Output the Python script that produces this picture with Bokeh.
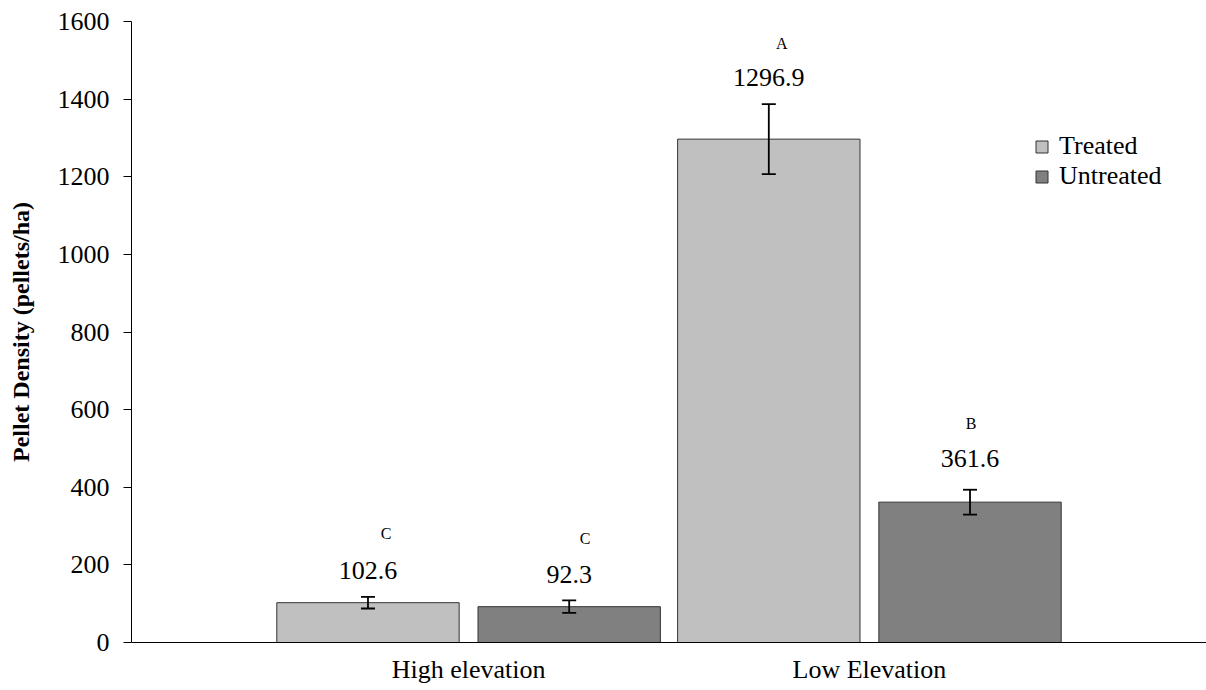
from bokeh.plotting import figure
from bokeh.models import ColumnDataSource, FactorRange, Whisker, TeeHead, LabelSet
from bokeh.transform import dodge
from bokeh.embed import file_html
from bokeh.resources import INLINE

# ---- data ----
groups = ["High elevation", "Low Elevation"]
series = ["Treated", "Untreated"]
treated = [102.6, 1296.9]
untreated = [92.3, 361.6]
treated_err = [15, 90]
untreated_err = [16, 32]
treated_letters = ["C", "A"]
untreated_letters = ["C", "B"]

# ---- annotation styling (pixel offsets of labels above error bars) ----
treated_val_dy = [26, 27]
untreated_val_dy = [26, 31]
treated_let_dy = [63, 61]
untreated_let_dy = [62, 66]
treated_let_dx = [18, 13]
untreated_let_dx = [16, 1]

FONT = "Liberation Serif"
OFF = 0.251
BW = 0.455


def make_src(vals, errs, letters, vdy, ldy, ldx):
    return ColumnDataSource(dict(
        group=groups,
        value=vals,
        upper=[v + e for v, e in zip(vals, errs)],
        lower=[v - e for v, e in zip(vals, errs)],
        label=[f"{v:.1f}" for v in vals],
        letter=letters,
        vdy=vdy, ldy=ldy, ldx=ldx,
    ))


src_t = make_src(treated, treated_err, treated_letters, treated_val_dy, treated_let_dy, treated_let_dx)
src_u = make_src(untreated, untreated_err, untreated_letters, untreated_val_dy, untreated_let_dy, untreated_let_dx)

xr = FactorRange(*groups, range_padding=0.341, range_padding_units="absolute")
p = figure(x_range=xr, y_range=(0, 1600), width=1206, height=690,
           output_backend="svg", toolbar_location=None,
           min_border_left=131, min_border_top=21, min_border_bottom=48, min_border_right=0)

p.outline_line_color = None
p.xgrid.grid_line_color = None
p.ygrid.grid_line_color = None
p.background_fill_color = "white"
p.border_fill_color = "white"

cols = {"Treated": "#C0C0C0", "Untreated": "#808080"}
for src, name, sgn in [(src_t, "Treated", -1), (src_u, "Untreated", 1)]:
    xpos = dodge("group", sgn * OFF, range=p.x_range)
    p.vbar(x=xpos, top="value", width=BW, source=src,
           fill_color=cols[name], line_color="#333333", line_width=1,
           legend_label=name)
    w = Whisker(base=dodge("group", sgn * OFF, range=p.x_range), upper="upper", lower="lower",
                source=src, line_color="black", line_width=1.8, level="overlay",
                upper_head=TeeHead(size=14, line_color="black", line_width=1.8),
                lower_head=TeeHead(size=14, line_color="black", line_width=1.8))
    p.add_layout(w)
    vl = LabelSet(x=dodge("group", sgn * OFF, range=p.x_range), y="upper", text="label",
                  y_offset="vdy", source=src, text_align="center", text_baseline="middle",
                  text_font=FONT, text_font_size="26px", text_color="black")
    p.add_layout(vl)
    ll = LabelSet(x=dodge("group", sgn * OFF, range=p.x_range), y="upper", text="letter",
                  y_offset="ldy", x_offset="ldx", source=src, text_align="center",
                  text_baseline="middle", text_font=FONT, text_font_size="16px",
                  text_color="black")
    p.add_layout(ll)

# y axis
ya = p.yaxis[0]
ya.ticker = list(range(0, 1601, 200))
ya.axis_label = "Pellet Density (pellets/ha)"
ya.axis_label_text_font = FONT
ya.axis_label_text_font_style = "bold"
ya.axis_label_text_font_size = "24px"
ya.axis_label_text_color = "black"
ya.axis_label_standoff = 21
ya.major_label_text_font = FONT
ya.major_label_text_font_size = "26px"
ya.major_label_text_color = "black"
ya.major_label_standoff = 14
ya.major_tick_out = 8
ya.major_tick_in = 0
ya.minor_tick_out = 0
ya.minor_tick_in = 0
ya.axis_line_color = "black"
ya.major_tick_line_color = "black"

# x axis
xa = p.xaxis[0]
xa.major_label_text_font = FONT
xa.major_label_text_font_size = "26px"
xa.major_label_text_color = "black"
xa.major_label_standoff = 12
xa.major_tick_out = 0
xa.major_tick_in = 0
xa.axis_line_color = "black"

# legend
lg = p.legend[0]
lg.location = (903, 451)
lg.border_line_color = None
lg.background_fill_alpha = 0
lg.padding = 0
lg.margin = 0
lg.spacing = -3
lg.glyph_width = 15
lg.glyph_height = 15
lg.label_standoff = 10
lg.label_text_font = FONT
lg.label_text_font_size = "26px"
lg.label_text_color = "black"
lg.label_height = 27

open("out.html", "w").write(file_html(p, INLINE))
